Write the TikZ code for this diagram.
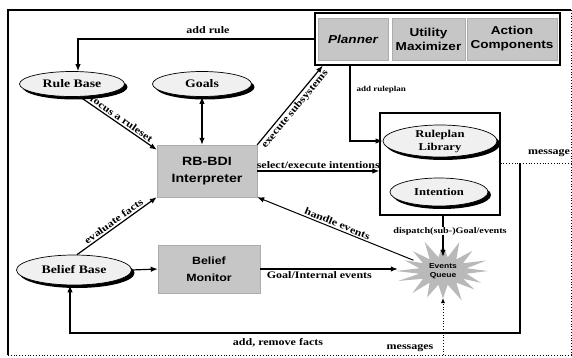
\documentclass[tikz,border=0pt]{standalone}
\usepackage{fontspec}
\setmainfont{Liberation Serif}
\newfontfamily\labf[FakeStretch=1.2]{Liberation Serif}
\newfontfamily\boxf[FakeStretch=1.18]{Liberation Sans}
\usetikzlibrary{arrows.meta,shadows,calc,shapes.geometric}
\begin{document}
\begin{tikzpicture}[x=1pt,y=-1pt,
  arr/.style={-{Latex[length=7pt,width=5.5pt]}, line width=1.2pt},
  rarr/.style={{Latex[length=7pt,width=5.5pt]}-, line width=1.2pt},
  dblarr/.style={{Latex[length=7pt,width=5.5pt]}-{Latex[length=7pt,width=5.5pt]}, line width=1.2pt},
  conn/.style={line width=1.2pt},
  msgline/.style={dotted, line width=0.8pt},
  lbl/.style={font=\labf\bfseries\fontsize{10}{11}\selectfont, inner sep=1.5pt},
  lbls/.style={font=\labf\bfseries\fontsize{8.5}{10}\selectfont, inner sep=1.5pt},
  oval/.style={ellipse, draw, line width=0.7pt, fill=gray!12, align=center,
    drop shadow={shadow xshift=3pt, shadow yshift=-3pt, fill=black, opacity=1},
    inner sep=0pt, font=\labf\bfseries\fontsize{11.5}{13}\selectfont},
  gbox/.style={rectangle, draw=gray!65, fill=gray!45, inner sep=0pt, align=center,
    font=\boxf\bfseries\fontsize{11.5}{14}\selectfont},
  frame/.style={draw, line width=1.2pt, inner sep=0pt, fill=white},
]
\useasboundingbox (0,0) rectangle (572,358);
% outer frame
\draw[line width=1.2pt] (8,355) -- (8,10) -- (571,10);
\draw[msgline] (571,10) -- (571,355) -- (8,355);

% top component box
\node[frame, minimum width=245, minimum height=52] (topbox) at (437.5,39) {};
\node[gbox, minimum width=70, minimum height=42, font=\boxf\bfseries\itshape\fontsize{11.5}{14}\selectfont] (planner) at (353,39) {Planner};
\node[gbox, minimum width=73, minimum height=42] (utility) at (428.5,39) {Utility\\Maximizer};
\node[gbox, minimum width=90, minimum height=42] (action) at (512,39) {Action\\Components};

% ellipses
\node[oval, minimum width=105, minimum height=25] (rulebase) at (72,84) {Rule Base};
\node[oval, minimum width=99, minimum height=25] (goals) at (202,84) {Goals};
\node[oval, minimum width=115, minimum height=30] (beliefbase) at (74,270) {Belief Base};

% interpreter and monitor
\node[gbox, minimum width=100, minimum height=52, font=\boxf\bfseries\fontsize{12}{17}\selectfont] (interp) at (207,171) {RB-BDI\\Interpreter};
\node[gbox, minimum width=102, minimum height=48, font=\boxf\bfseries\fontsize{10.5}{17}\selectfont] (monitor) at (209,269) {Belief\\Monitor};

% ruleplan library box
\node[frame, minimum width=120, minimum height=102] (rpbox) at (440,164) {};
\node[oval, minimum width=114, minimum height=32, font=\labf\bfseries\fontsize{10.5}{13}\selectfont] (rplib) at (440,141) {Ruleplan\\Library};
\node[oval, minimum width=98, minimum height=28, font=\labf\bfseries\fontsize{10.5}{13}\selectfont] (intent) at (439,192) {Intention};

% events queue
\fill[gray!55] plot[samples at={0,...,31}, variable=\k]
  ({443+ifthenelse(mod(\k,2)==0,45+4*sin(\k*137),24)*cos(\k*11.25)},
   {271+ifthenelse(mod(\k,2)==0,29+3*sin(\k*71),14)*sin(\k*11.25)}) -- cycle;
\node[ellipse, minimum width=90, minimum height=28, inner sep=0pt, align=center,
  font=\boxf\bfseries\fontsize{7.2}{9}\selectfont] (eq) at (443,271) {Events\\Queue};
\coordinate (eqb) at (443,298);

% connectors
\draw[arr] (topbox.west) -| ([xshift=6pt]rulebase.north);
\node[lbl] (laddrule) at (208,30) {add rule};

\draw[dblarr] (goals.south) -- (goals.south |- interp.north);

\draw[arr] ([xshift=8pt]rulebase.south) -- ([yshift=-5pt]interp.north west)
  node[lbl, midway, sloped, above] (lfocus) {focus a ruleset};

\draw[arr] (interp.north east) -- ($(topbox.south -| planner.south west)+(5,0)$)
  node[lbl, midway, sloped, below] (lexec) {execute subsystems};

\draw[arr] (interp.east) -- (interp.east -| rpbox.west)
  node[lbl, midway, above] (lselect) {select/execute intentions};

\draw[arr] ($(planner.south)+(-3,5)$) |- (rplib.west);
\node[lbls, font=\labf\bfseries\fontsize{7.5}{9}\selectfont, anchor=west] (lruleplan) at (355,90) {add ruleplan};

\draw[arr] (rpbox.south -| eq.north) -- (eq.north);
\node[lbls, fill=white, inner sep=0.5pt] (ldispatch) at (450,231) {dispatch(sub-)Goal/events};

\draw[arr] (monitor.east) -- (monitor.east -| eq.west)
  node[lbl, below, pos=0.43] (lgoal) {Goal/Internal events};

\draw[rarr, line width=1pt] (interp.south east) -- (eq.160)
  node[lbl, midway, sloped, above] (lhandle) {handle events};

\draw[arr] ([xshift=3pt]beliefbase.north) -- (interp.south west)
  node[lbl, midway, sloped, above] (levaluate) {evaluate facts};

\draw[arr] (beliefbase.east) -- (monitor.west);

\coordinate (c1) at (520,163);
\coordinate (c2) at (520,333);
\draw[arr] (c1) -- (c2) -| ([xshift=-4pt]beliefbase.south);
\node[lbl] (lfacts) at (278,343) {add, remove facts};

\draw[msgline] (rpbox.east |- c1) -- (571,163);
\node[lbl] (lmsg1) at (549,153) {message};

\coordinate (m0) at (443,355);
\draw[msgline, -{Latex[length=5pt,width=4pt]}] (m0) -- (eqb);
\node[lbl] (lmsg2) at (410,348) {messages};
\end{tikzpicture}
\end{document}
